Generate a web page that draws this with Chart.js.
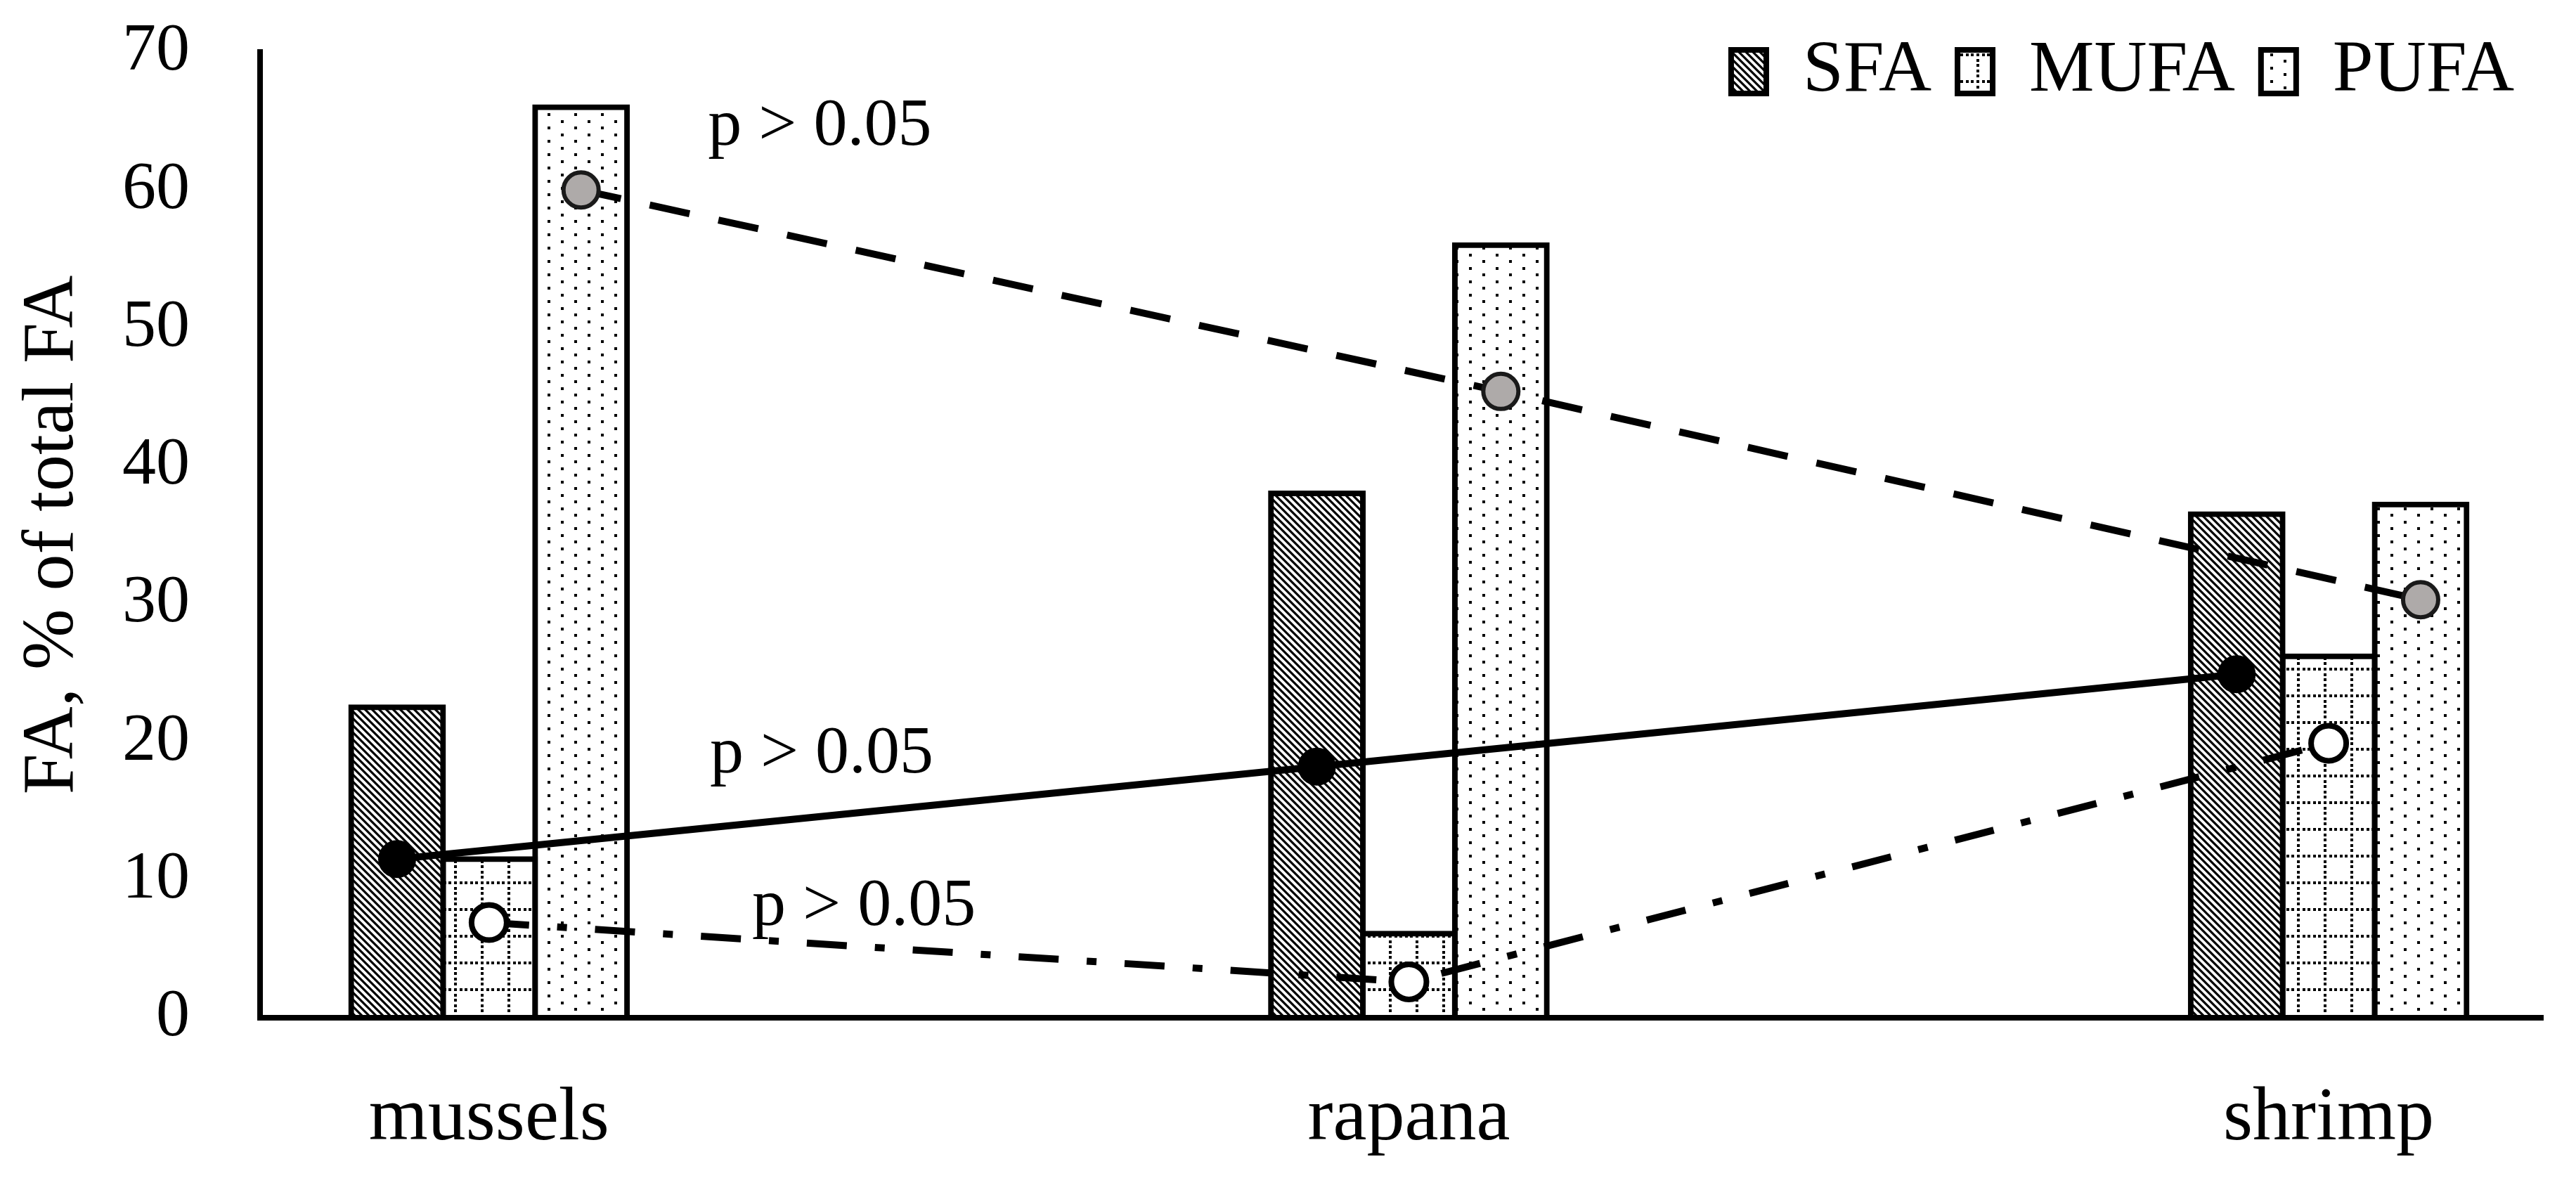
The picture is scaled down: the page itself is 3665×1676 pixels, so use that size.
<!DOCTYPE html>
<html>
<head>
<meta charset="utf-8">
<title>FA, % of total FA</title>
<script src="https://cdn.jsdelivr.net/npm/chart.js"></script>
<style>
  html, body { margin: 0; padding: 0; background: #fff; }
  #contenedor { width: 3665px; height: 1676px; }
</style>
</head>
<body>
<div id="contenedor"><canvas id="grafica"></canvas></div>
<script>
// Datos
const categorias = ['mussels', 'rapana', 'shrimp'];
const sfa = [22.5, 38.0, 36.5];
const mufa = [11.5, 6.1, 26.2];
const pufa = [66.0, 56.0, 37.2];

// Puntos de las líneas (uno por barra)
const lineaSfa = [11.5, 18.2, 24.9];
const lineaMufa = [6.9, 2.6, 19.9];
const lineaPufa = [60.0, 45.4, 30.3];

const ticksY = [0, 10, 20, 30, 40, 50, 60, 70];
const textoP = 'p > 0.05';

Chart.defaults.font.family = '"Liberation Serif", "Times New Roman", serif';
Chart.defaults.color = '#000';

// Rellenos con trama
function patron(w, h, dibujar) {
    const c = document.createElement('canvas');
    c.width = w;
    c.height = h;
    const g = c.getContext('2d');
    g.fillStyle = '#fff';
    g.fillRect(0, 0, w, h);
    g.fillStyle = '#000';
    g.strokeStyle = '#000';
    dibujar(g);
    return g.createPattern(c, 'repeat');
}

const rayado = patron(10, 10, g => {
    g.lineWidth = 3.2;
    g.beginPath();
    g.moveTo(-2, -2); g.lineTo(12, 12);
    g.moveTo(-2, 8); g.lineTo(2, 12);
    g.moveTo(8, -2); g.lineTo(12, 2);
    g.stroke();
});

const cuadricula = patron(38, 38, g => {
    for (let k = 0; k < 5; k++) {
        const p = Math.round(k * 7.6);
        g.fillRect(p, 0, 4, 4);
        g.fillRect(0, p, 4, 4);
    }
});

const puntos = patron(38, 19, g => {
    g.fillRect(0, 0, 4, 4);
    g.fillRect(19, 9, 4, 4);
});

const anchoGrupo = 0.3;          // fracción de la categoría ocupada por las 3 barras
const paso = anchoGrupo / 3;     // desplazamiento de cada barra

function barra(label, valores, fondo) {
    return {
        type: 'bar',
        label: label,
        data: categorias.map((c, i) => ({ x: i, y: valores[i] })),
        backgroundColor: fondo,
        borderColor: '#000',
        borderWidth: 8,
        borderSkipped: false,
        inflateAmount: 4,
        categoryPercentage: anchoGrupo,
        barPercentage: 1,
        order: 2
    };
}

function linea(label, valores, desplaz, extra) {
    return Object.assign({
        type: 'line',
        label: label,
        data: categorias.map((c, i) => ({ x: i + desplaz, y: valores[i] })),
        borderColor: '#000',
        borderWidth: 10,
        tension: 0,
        fill: false,
        order: 1
    }, extra);
}

const etiquetasP = {
    id: 'etiquetasP',
    afterDatasetsDraw(chart) {
        const { ctx, scales: { x, y } } = chart;
        ctx.save();
        ctx.font = '96px "Liberation Serif", serif';
        ctx.fillStyle = '#000';
        ctx.textBaseline = 'alphabetic';
        // posición en unidades de los ejes
        [[0.238, 63.3], [0.24, 17.8], [0.286, 6.7]].forEach(([vx, vy]) => {
            ctx.fillText(textoP, x.getPixelForValue(vx), y.getPixelForValue(vy));
        });
        ctx.restore();
    }
};

// La leyenda va arriba a la derecha, a la altura del "70"
const moverLeyenda = {
    id: 'moverLeyenda',
    afterLayout(chart) {
        const ley = chart.legend;
        ley.top = 13;
        ley.bottom = ley.top + ley.height;
        ley.right = 3614;
        ley.left = ley.right - ley.width;
    }
};

const ctx = document.getElementById('grafica').getContext('2d');

const grafica = new Chart(ctx, {
    type: 'bar',
    data: {
        datasets: [
            barra('SFA', sfa, rayado),
            barra('MUFA', mufa, cuadricula),
            barra('PUFA', pufa, puntos),
            linea('SFA línea', lineaSfa, -paso, {
                pointRadius: 26, pointBackgroundColor: '#000', pointBorderColor: '#000', pointBorderWidth: 2
            }),
            linea('MUFA línea', lineaMufa, 0, {
                borderDash: [57, 40, 14, 40],
                pointRadius: 25, pointBackgroundColor: '#fff', pointBorderColor: '#000', pointBorderWidth: 8
            }),
            linea('PUFA línea', lineaPufa, paso, {
                borderDash: [58, 42],
                pointRadius: 25, pointBackgroundColor: '#aeaaa9', pointBorderColor: '#1a1a1a', pointBorderWidth: 6
            })
        ]
    },
    options: {
        responsive: true,
        maintainAspectRatio: false,
        animation: false,
        layout: { padding: { left: 0, right: 47, top: -60, bottom: 0 } },
        plugins: {
            tooltip: { enabled: false },
            legend: {
                position: 'top',
                align: 'end',
                labels: {
                    boxWidth: 50,
                    boxHeight: 62,
                    padding: 37,
                    font: { size: 104 },
                    filter: item => item.datasetIndex < 3
                }
            }
        },
        scales: {
            x: {
                type: 'linear',
                min: -0.249,
                max: 2.233,
                bounds: 'data',
                offset: false,
                afterBuildTicks: s => { s.ticks = categorias.map((c, i) => ({ value: i })); },
                afterFit: s => { s.height = 228; },
                ticks: {
                    callback: v => categorias[v],
                    font: { size: 108 },
                    padding: 80,
                    autoSkip: false,
                    maxRotation: 0
                },
                grid: { display: false, drawTicks: false },
                border: { display: true, color: '#000', width: 8 }
            },
            y: {
                min: 0,
                max: 70,
                afterBuildTicks: s => { s.ticks = ticksY.map(v => ({ value: v })); },
                afterFit: s => {
                    s.width = 370;
                    // el padding de las etiquetas no debe empujar el área hacia abajo
                    s.paddingTop = 0;
                    s.paddingBottom = 0;
                },
                ticks: { font: { size: 96 }, padding: 100 },
                grid: { display: false, drawTicks: false },
                border: { display: true, color: '#000', width: 8 },
                title: {
                    display: true,
                    text: 'FA, % of total FA',
                    font: { size: 104 },
                    padding: { top: 13, bottom: 0 }
                }
            }
        }
    },
    plugins: [etiquetasP, moverLeyenda]
});

// El área del gráfico empieza en y = 74 como en la figura
const ajuste = 74 - grafica.chartArea.top;
if (Math.abs(ajuste) > 0.5) {
    grafica.config.options.layout.padding.top += ajuste;
    grafica.update();
}
</script>
</body>
</html>
